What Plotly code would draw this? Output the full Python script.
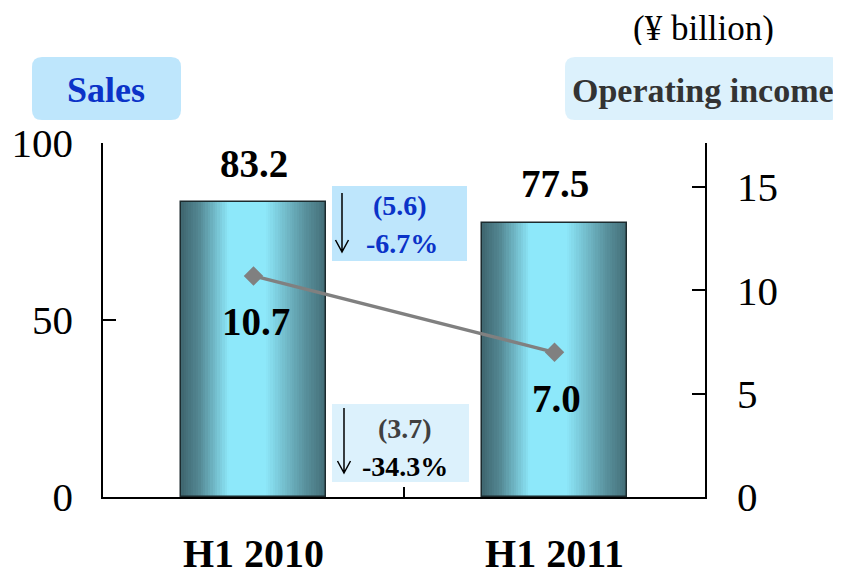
import plotly.graph_objects as go

# ---- data ----
categories = ["H1 2010", "H1 2011"]
sales = [83.2, 77.5]
operating_income = [10.7, 7.0]
sales_labels = ["83.2", "77.5"]
oi_labels = ["10.7", "7.0"]
sales_change = ["(5.6)", "-6.7%"]
oi_change = ["(3.7)", "-34.3%"]

OFF = 8                       # page body margin
W, H = 841 - OFF, 575 - OFF
L, R, T, B = 103, 705, 143, 497   # plot area in page pixels
PW, PH = R - L, B - T

def px(x, y):
    return (x - L) / PW, (B - y) / PH

FONT = "Liberation Serif"

fig = go.Figure()

# gradient bars built from narrow strips
bar_w = 0.48
N = 60
dark = (63, 102, 111)
light = (141, 232, 250)
ctrl = [(0.0, 0.0), (0.12, 0.25), (0.33, 1.0), (0.58, 1.0), (0.85, 0.35), (1.0, 0.05)]

def bright(t):
    for (t0, b0), (t1, b1) in zip(ctrl[:-1], ctrl[1:]):
        if t0 <= t <= t1:
            return b0 + (b1 - b0) * (t - t0) / (t1 - t0)
    return 0.0

for i in range(N):
    t = (i + 0.5) / N
    b = bright(t)
    c = tuple(int(round(d + (l - d) * b)) for d, l in zip(dark, light))
    start = -bar_w / 2 + i * bar_w / N
    fig.add_trace(go.Bar(
        x=categories, y=sales, offset=start, width=bar_w / 2 - start,
        marker=dict(color=f"rgb{c}", line=dict(width=0)),
        showlegend=False, hoverinfo="skip", yaxis="y"))

# bar outline
fig.add_trace(go.Bar(
    x=categories, y=sales, offset=-bar_w / 2, width=bar_w,
    marker=dict(color="rgba(0,0,0,0)", line=dict(color="#1c2b2e", width=1.5)),
    showlegend=False, hoverinfo="skip", yaxis="y"))

# operating income line
fig.add_trace(go.Scatter(
    x=categories, y=operating_income, mode="lines+markers", yaxis="y2",
    line=dict(color="#808080", width=3.5),
    marker=dict(symbol="diamond", size=15, color="#808080"),
    showlegend=False, hoverinfo="skip"))

annotations = []
shapes = []

# value labels
for c, v, s in zip(categories, sales, sales_labels):
    annotations.append(dict(x=c, y=v, xref="x", yref="y", text=s, showarrow=False,
                            yanchor="middle", yshift=39,
                            font=dict(family=FONT, size=39, color="black", weight="bold")))
for c, v, s in zip(categories, operating_income, oi_labels):
    annotations.append(dict(x=c, y=v, xref="x", yref="y2", text=s, showarrow=False,
                            yanchor="middle", yshift=-46, xshift=2,
                            font=dict(family=FONT, size=39, color="black", weight="bold")))

def P(x, y):
    a, b = px(x, y)
    return f"{a:.5f},{b:.5f}"

def rect(x0, y0, x1, y1, color, r=0):
    if r == 0:
        a0, b0 = px(x0, y1)
        a1, b1 = px(x1, y0)
        shapes.append(dict(type="rect", xref="paper", yref="paper", x0=a0, y0=b0, x1=a1, y1=b1,
                           fillcolor=color, line=dict(width=0), layer="above"))
        return
    path = (f"M{P(x0 + r, y0)} L{P(x1 - r, y0)} Q{P(x1, y0)} {P(x1, y0 + r)} "
            f"L{P(x1, y1 - r)} Q{P(x1, y1)} {P(x1 - r, y1)} L{P(x0 + r, y1)} "
            f"Q{P(x0, y1)} {P(x0, y1 - r)} L{P(x0, y0 + r)} Q{P(x0, y0)} {P(x0 + r, y0)} Z")
    shapes.append(dict(type="path", xref="paper", yref="paper", path=path,
                       fillcolor=color, line=dict(width=0), layer="above"))

def text(x, y, s, size, color, bold=True, height=None):
    a, b = px(x, y)
    d = dict(x=a, y=b, xref="paper", yref="paper", text=s, showarrow=False,
             xanchor="center", yanchor="middle",
             font=dict(family=FONT, size=size, color=color,
                       weight="bold" if bold else "normal"))
    if height:
        d["height"] = height
    annotations.append(d)

def arrow(x, y0, y1):
    shapes.append(dict(type="path", xref="paper", yref="paper", layer="above",
                       path=f"M{P(x, y0)} L{P(x, y1)} M{P(x - 6.5, y1 - 12)} L{P(x, y1)} L{P(x + 6.5, y1 - 12)}",
                       line=dict(color="black", width=1.5)))

# header boxes
rect(32, 57, 181, 120, "#bee6fc", r=10)
text(106, 90, "Sales", 36, "#0b33c8")
rect(565, 57, 840, 120, "#dcf1fc", r=10)
text(703, 90, "Operating income", 34, "#333333")
text(703, 28, "(¥ billion)", 35, "black", bold=False, height=34)

# change boxes
rect(332, 186, 467, 261, "#bee6fc")
text(400, 205, sales_change[0], 28, "#0b33c8")
text(402, 243, sales_change[1], 28, "#0b33c8")
arrow(342, 193, 252)

rect(332, 404, 469, 482, "#dcf1fc")
text(405, 428, oi_change[0], 28, "#404040")
text(405, 466, oi_change[1], 28, "black")
arrow(344, 408, 473)

fig.update_layout(
    width=W, height=H,
    margin=dict(l=L - OFF, r=841 - R, t=T - OFF, b=575 - B, pad=0, autoexpand=False),
    paper_bgcolor="white", plot_bgcolor="white",
    barmode="overlay", bargap=0,
    showlegend=False,
    xaxis=dict(type="category", range=[-0.5, 1.5], showline=True, linecolor="black", linewidth=1.5,
               ticks="inside", tickson="boundaries", ticklen=10, tickcolor="black", tickwidth=1.5,
               showgrid=False, zeroline=False, ticklabelstandoff=20, automargin=False,
               tickfont=dict(family=FONT, size=40, color="black", weight="bold")),
    yaxis=dict(range=[0, 100], tickvals=[0, 50, 100], showline=True, linecolor="black", linewidth=1.5,
               ticks="inside", ticklen=13, tickcolor="black", tickwidth=1.5,
               showgrid=False, zeroline=False, ticklabelstandoff=20, automargin=False,
               tickfont=dict(family=FONT, size=41, color="black")),
    yaxis2=dict(range=[0, 17.13], tickvals=[0, 5, 10, 15], overlaying="y", side="right",
                showline=True, linecolor="black", linewidth=1.5,
                ticks="inside", ticklen=13, tickcolor="black", tickwidth=1.5,
                showgrid=False, zeroline=False, ticklabelstandoff=22, automargin=False,
                tickfont=dict(family=FONT, size=41, color="black")),
    annotations=annotations, shapes=shapes,
)

fig.write_html("out.html")
